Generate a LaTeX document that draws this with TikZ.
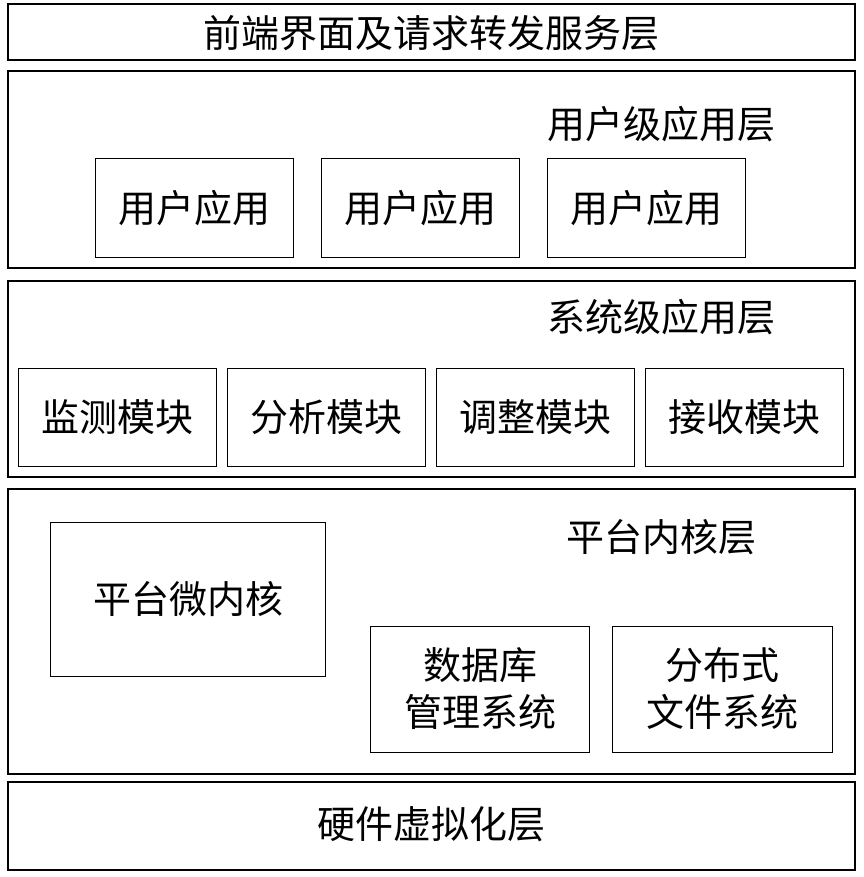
\documentclass[tikz,border=0pt]{standalone}
\usepackage{fontspec}
\newfontfamily\cjk{Noto Sans CJK SC}
\usepackage{tikz}

\begin{document}
\begin{tikzpicture}[x=1pt,y=-1pt]
\tikzset{layer/.style={draw,line width=2pt,inner sep=0pt},
  module/.style={draw,line width=1pt,inner sep=0pt,align=center,font=\cjk\fontsize{38}{47}\selectfont},
  title/.style={font=\cjk\fontsize{38}{47}\selectfont}}
\useasboundingbox (0,0) rectangle (863,877);
% layers
\draw [layer] (8,4) rectangle (855,60);
\node [title] (front) at (431,33) {前端界面及请求转发服务层};
\draw [layer] (8,71) rectangle (855,268);
\node [title] (user) at (661,124) {用户级应用层};
\draw [layer] (8,281) rectangle (855,477);
\node [title] (sys) at (661,317) {系统级应用层};
\draw [layer] (8,489) rectangle (855,774);
\node [title] (kernel) at (661,537) {平台内核层};
\draw [layer] (8,782) rectangle (855,870);
\node [title] (hw) at (431,824) {硬件虚拟化层};
% user apps
\foreach \x/\n in {194/ua, 420/ub, 646/uc}
  \node [module,minimum width=198pt,minimum height=98pt] (\n) at (\x,208) {用户应用};
% system modules
\foreach \x/\n/\t in {117/ma/监测模块, 326/mb/分析模块, 535/mc/调整模块, 744/md/接收模块}
  \node [module,minimum width=198pt,minimum height=98pt] (\n) at (\x,417) {\t};
% kernel parts
\node [module,minimum width=275pt,minimum height=154pt] (micro) at (188,599) {平台微内核};
\node [module,minimum width=219pt,minimum height=126pt] (db) at (480,689) {数据库\\管理系统};
\node [module,minimum width=220pt,minimum height=126pt] (dfs) at (722,689) {分布式\\文件系统};
\end{tikzpicture}
\end{document}
